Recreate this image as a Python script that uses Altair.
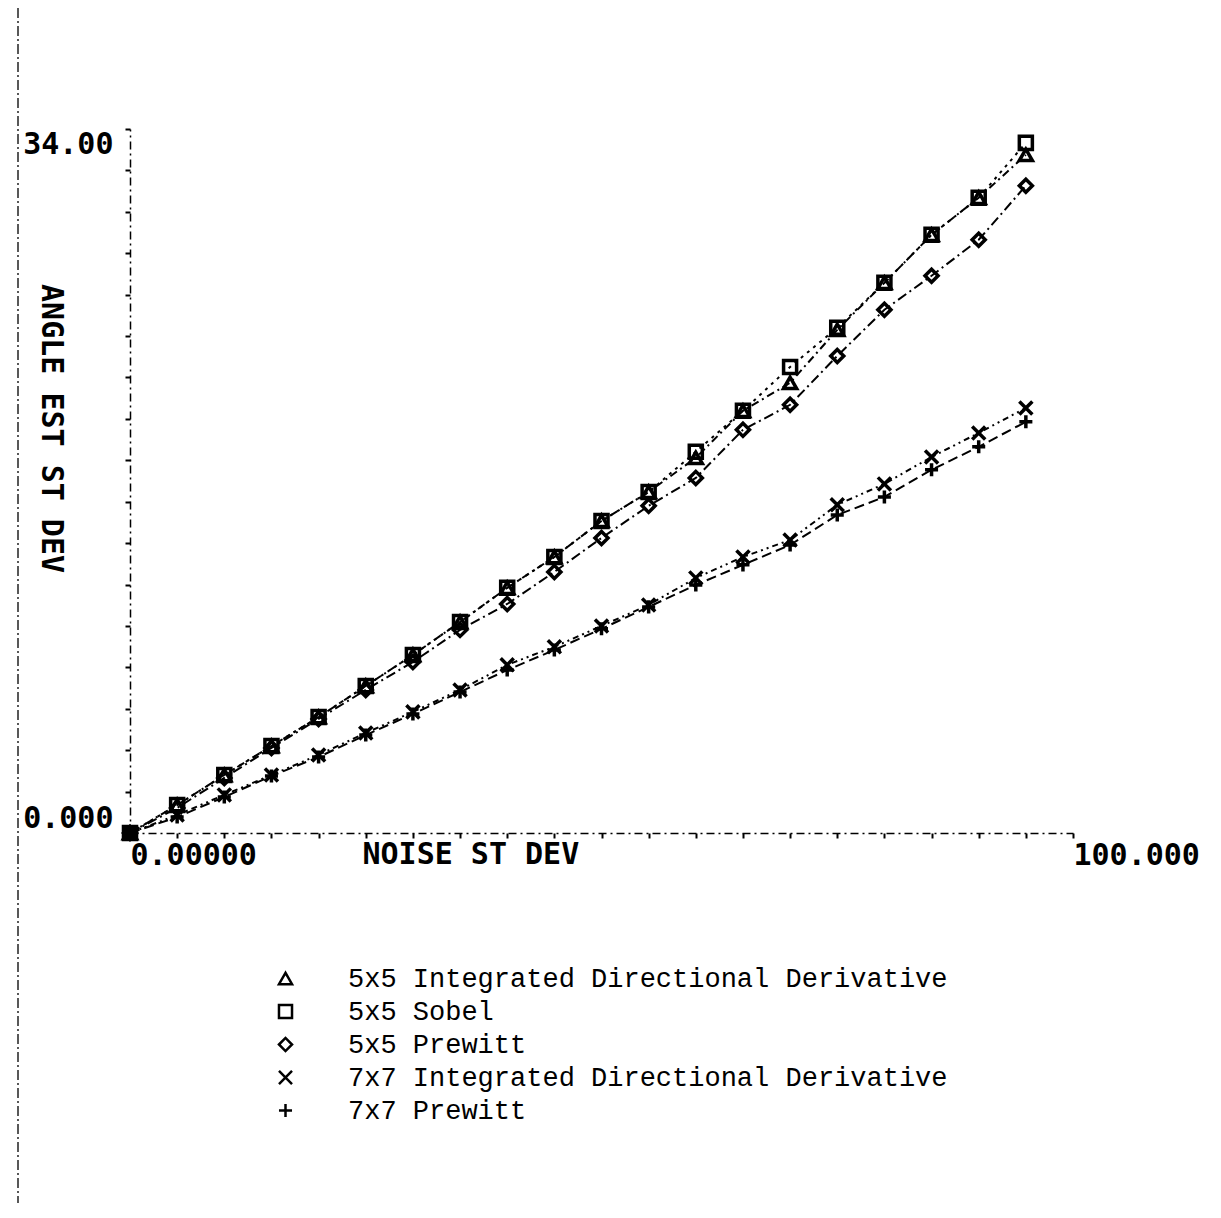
import altair as alt
import pandas as pd

# ---- data ----
noise = [0, 5, 10, 15, 20, 25, 30, 35, 40, 45, 50, 55, 60, 65, 70, 75, 80, 85, 90, 95]

idd5 = [0.0, 1.35, 2.80, 4.20, 5.60, 7.10, 8.60, 10.19, 11.84, 13.33, 15.07, 16.47,
        18.12, 20.39, 21.74, 24.30, 26.57, 28.89, 30.68, 32.75]
sobel5 = [0.0, 1.35, 2.80, 4.20, 5.60, 7.10, 8.60, 10.19, 11.84, 13.33, 15.07, 16.47,
          18.41, 20.39, 22.51, 24.40, 26.57, 28.89, 30.68, 33.33]
prewitt5 = [0.0, 1.21, 2.66, 4.11, 5.51, 6.91, 8.26, 9.81, 11.06, 12.61, 14.25, 15.80,
            17.15, 19.47, 20.68, 23.04, 25.27, 26.91, 28.65, 31.26]
idd7 = [0.0, 0.87, 1.84, 2.80, 3.77, 4.83, 5.85, 6.91, 8.12, 8.99, 10.00, 11.01,
        12.32, 13.33, 14.15, 15.85, 16.86, 18.16, 19.32, 20.53]
prewitt7 = [0.0, 0.77, 1.74, 2.75, 3.67, 4.73, 5.75, 6.81, 7.87, 8.84, 9.86, 10.92,
            11.98, 12.95, 13.91, 15.36, 16.23, 17.54, 18.65, 19.86]

names = [
    "5x5 Integrated Directional Derivative",
    "5x5 Sobel",
    "5x5 Prewitt",
    "7x7 Integrated Directional Derivative",
    "7x7 Prewitt",
]
shapes = ["triangle-up", "square", "diamond",
          "M-1,-1L1,1M-1,1L1,-1", "M-1,0L1,0M0,-1L0,1"]
dashes = [[8, 4, 2, 4], [3, 5], [10, 4, 2, 4], [6, 4, 2, 4, 2, 4], [10, 5]]

x_ticks = list(range(0, 101, 5))
y_ticks = list(range(0, 35, 2))

rows = []
for name, vals in zip(names, [idd5, sobel5, prewitt5, idd7, prewitt7]):
    for xv, yv in zip(noise, vals):
        rows.append({"noise": xv, "angle": yv, "series": name, "dash": name})
df = pd.DataFrame(rows)

AXFONT = "DejaVu Sans Mono"
AXSIZE = 30

x_enc = alt.X(
    "noise:Q",
    scale=alt.Scale(domain=[0, 100], nice=False),
    axis=alt.Axis(
        values=x_ticks,
        labelExpr="datum.value == 0 ? '0.00000' : (datum.value == 100 ? '100.000' : '')",
        labelAlign="left",
        labelFont=AXFONT, labelFontSize=AXSIZE, labelFontWeight="bold", labelColor="black",
        labelPadding=2,
        title="NOISE ST DEV",
        titleFont=AXFONT, titleFontSize=AXSIZE, titleFontWeight="bold", titleColor="black",
        titleX=232, titleY=6, titleAlign="left", titleBaseline="top", titleAngle=0,
        domainColor="black", domainWidth=1.5, domainDash=[8, 4, 2, 4],
        tickColor="black", tickWidth=2, tickSize=5,
        grid=False,
    ),
)
y_enc = alt.Y(
    "angle:Q",
    scale=alt.Scale(domain=[0, 34], nice=False),
    axis=alt.Axis(
        values=y_ticks,
        labelExpr="datum.value == 0 ? '0.000' : (datum.value == 34 ? '34.00' : '')",
        labelFlush=True,
        labelFont=AXFONT, labelFontSize=AXSIZE, labelFontWeight="bold", labelColor="black",
        labelPadding=12,
        title="ANGLE EST ST DEV",
        titleFont=AXFONT, titleFontSize=AXSIZE, titleFontWeight="bold", titleColor="black",
        titleAngle=90, titleX=-80, titleY=299, titleAlign="center", titleBaseline="middle",
        domainColor="black", domainWidth=1.5, domainDash=[8, 4, 2, 4],
        tickColor="black", tickWidth=2, tickSize=5,
        grid=False,
    ),
)

base = alt.Chart(df)

lines = base.mark_line(color="black", strokeWidth=2).encode(
    x=x_enc,
    y=y_enc,
    detail="series:N",
    strokeDash=alt.StrokeDash("dash:N", scale=alt.Scale(domain=names, range=dashes), legend=None),
)

points = base.mark_point(color="black", filled=False, strokeWidth=3.5, size=170, opacity=1).encode(
    x="noise:Q",
    y="angle:Q",
    shape=alt.Shape(
        "series:N",
        scale=alt.Scale(domain=names, range=shapes),
        legend=alt.Legend(
            orient="none", legendX=142, legendY=836, title=None,
            labelFont="Liberation Mono", labelFontSize=27, labelColor="black",
            labelLimit=900, labelOffset=49,
            symbolSize=170, symbolStrokeColor="black", symbolStrokeWidth=2.5,
            symbolOpacity=1,
            rowPadding=5,
        ),
    ),
)

frame = alt.Chart(pd.DataFrame({"k": [0]})).mark_rule(
    color="#222", strokeWidth=1.5, strokeDash=[10, 3, 2, 3]
).encode(x=alt.value(-112), y=alt.value(-121), y2=alt.value(1074))

chart = alt.layer(lines, points, frame).resolve_legend(shape="independent").properties(
    width=943,
    height=704,
    padding={"left": 122, "top": 121, "right": 135, "bottom": 370},
    autosize=alt.AutoSizeParams(type="none"),
).configure_view(stroke="transparent")

chart.save("out.html", embed_options={"renderer": "svg", "actions": False})
